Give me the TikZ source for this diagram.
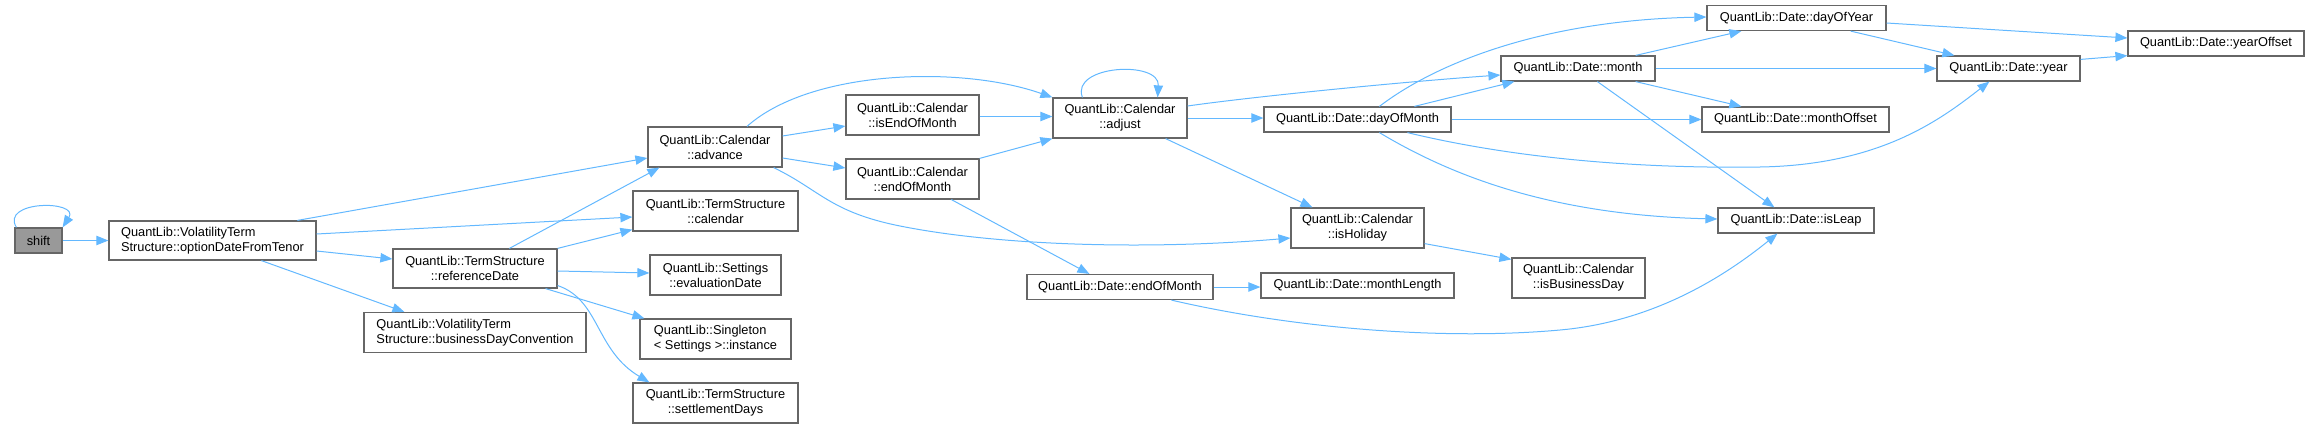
\documentclass[tikz,border=0pt]{standalone}
\usepackage{fontspec}
\setmainfont{Liberation Sans}
\usetikzlibrary{arrows.meta,calc}
\definecolor{edgeblue}{HTML}{63B8FF}
\definecolor{boxgray}{HTML}{666666}
\definecolor{shiftfill}{HTML}{999999}
\begin{document}
\begin{tikzpicture}[x=0.75pt,y=-0.75pt,
  box/.style={draw=boxgray, line width=0.9pt, fill=white, inner sep=0pt,
    font=\fontsize{9.6}{11.25}\selectfont, align=center},
  lbox/.style={box, align=left},
  sz/.style 2 args={minimum width=#1*0.75pt, minimum height=#2*0.75pt},
  call/.style={draw=edgeblue, line width=0.75pt, -{Triangle[length=9pt,width=7pt]}},
]
\useasboundingbox (0,0) rectangle (2310,429);

% nodes
\node[box, sz={47}{25}, fill=shiftfill] (shift) at (38.5,240.5) {shift};
\node[lbox, sz={207}{39}] (odft) at (212.5,240.5) {QuantLib::VolatilityTerm\\Structure::optionDateFromTenor};
\node[box, sz={134}{40}] (advance) at (715,147) {QuantLib::Calendar\\::advance};
\node[box, sz={165}{40}] (tscal) at (715.5,211) {QuantLib::TermStructure\\::calendar};
\node[box, sz={164}{39}] (refdate) at (475,268.5) {QuantLib::TermStructure\\::referenceDate};
\node[box, sz={131}{40}] (evaldate) at (715.5,275) {QuantLib::Settings\\::evaluationDate};
\node[lbox, sz={222}{40}] (bdc) at (475,332.5) {QuantLib::VolatilityTerm\\Structure::businessDayConvention};
\node[lbox, sz={151}{40}] (inst) at (715.5,339) {QuantLib::Singleton\\< Settings >::instance};
\node[box, sz={165}{40}] (settle) at (715.5,403) {QuantLib::TermStructure\\::settlementDays};
\node[box, sz={133}{40}] (iseom) at (912.5,115) {QuantLib::Calendar\\::isEndOfMonth};
\node[box, sz={133}{40}] (caleom) at (912.5,179) {QuantLib::Calendar\\::endOfMonth};
\node[box, sz={134}{40}] (adjust) at (1120,118) {QuantLib::Calendar\\::adjust};
\node[box, sz={187}{25}] (dom) at (1357.5,119.5) {QuantLib::Date::dayOfMonth};
\node[box, sz={133}{40}] (isholiday) at (1357.5,228) {QuantLib::Calendar\\::isHoliday};
\node[box, sz={186}{25}] (deom) at (1120,287) {QuantLib::Date::endOfMonth};
\node[box, sz={154}{25}] (month) at (1578,68.5) {QuantLib::Date::month};
\node[box, sz={193}{25}] (mlen) at (1357.5,285.5) {QuantLib::Date::monthLength};
\node[box, sz={133}{40}] (isbd) at (1578.5,278) {QuantLib::Calendar\\::isBusinessDay};
\node[box, sz={179}{25}] (doy) at (1796.5,18) {QuantLib::Date::dayOfYear};
\node[box, sz={187}{25}] (moff) at (1795.5,119.5) {QuantLib::Date::monthOffset};
\node[box, sz={156}{25}] (isleap) at (1796,220.5) {QuantLib::Date::isLeap};
\node[box, sz={143}{25}] (year) at (2008.5,68.5) {QuantLib::Date::year};
\node[box, sz={176}{25}] (yoff) at (2216,43.5) {QuantLib::Date::yearOffset};

% connectors
\draw[call] ($(shift.north west)+(2,0)$) .. controls (0,200) and (80,200) .. (shift.north east);
\draw[call] (shift) -- (odft);
\draw[call] ($(odft.north west)+(189,0)$) -- ($(advance.west)+(0,11)$);
\draw[call] ($(odft.east)+(0,-6.5)$) -- ($(tscal.west)+(0,6)$);
\draw[call] ($(odft.east)+(0,10.5)$) -- ($(refdate.west)+(0,-9.5)$);
\draw[call] ($(odft.south west)+(153,0)$) -- ($(bdc.north west)+(41,0)$);
\draw[call] ($(refdate.north west)+(117,0)$) -- ($(advance.south west)+(12,0)$);
\draw[call] (refdate.north east) -- ($(tscal.south west)+(0,-2)$);
\draw[call] ($(refdate.east)+(0,2.5)$) -- ($(evaldate.west)+(0,-2)$);
\draw[call] ($(refdate.south east)+(-12,0)$) -- ($(inst.north west)+(5,0)$);
\draw[call] ($(refdate.east)+(0,17)$) .. controls (600,300) and (595,350) .. ($(settle.north west)+(17,0)$);
\draw[call] ($(advance.east)+(0,-11)$) -- ($(iseom.west)+(0,11)$);
\draw[call] ($(advance.east)+(0,11)$) -- ($(caleom.west)+(0,-11)$);
\draw[call] ($(advance.north)+(32,0)$) .. controls (810,70) and (960,65) .. (adjust.north west);
\draw[call] ($(advance.south east)+(-9,0)$) .. controls (820,190) and (830,212) .. (900,226)
   .. controls (1000,246) and (1150,250) .. ($(isholiday.west)+(0,10)$);
\draw[call] ($(iseom.east)+(0,1.5)$) -- ($(adjust.west)+(0,-1.5)$);
\draw[call] (caleom.north east) -- (adjust.south west);
\draw[call] ($(caleom.south west)+(106,0)$) -- ($(deom.north west)+(63,0)$);
\draw[call] ($(adjust.north west)+(30,0)$) .. controls (1070,65) and (1160,60) .. ($(adjust.north east)+(-30,0)$);
\draw[call] (adjust.east) -- ($(dom.west)+(0,-1.5)$);
\draw[call] ($(adjust.east)+(0,-12)$) .. controls (1250,97) and (1400,82) .. ($(month.west)+(0,6.5)$);
\draw[call] ($(adjust.south east)+(-22,0)$) -- ($(isholiday.north west)+(22,0)$);
\draw[call] ($(dom.north west)+(116,0)$) .. controls (1440,60) and (1550,20) .. ($(doy.west)+(0,-1)$);
\draw[call] ($(dom.north west)+(151,0)$) -- ($(month.south west)+(14,0)$);
\draw[call] (dom.east) -- (moff.west);
\draw[call] ($(dom.south west)+(144,0)$) .. controls (1500,155) and (1620,169) .. (1760,167)
   .. controls (1880,165) and (1940,120) .. ($(year.south west)+(53,0)$);
\draw[call] ($(dom.south west)+(116,0)$) .. controls (1450,175) and (1550,215) .. ($(isleap.west)+(0,-1.5)$);
\draw[call] ($(month.north east)+(-20,0)$) -- ($(doy.south west)+(35,0)$);
\draw[call] (month.east) -- (year.west);
\draw[call] ($(month.south east)+(-20,0)$) -- ($(moff.north west)+(40,0)$);
\draw[call] ($(month.south west)+(97,0)$) -- ($(isleap.north west)+(57,0)$);
\draw[call] ($(doy.east)+(0,5)$) -- ($(yoff.west)+(0,-5.5)$);
\draw[call] ($(doy.south east)+(-36,0)$) -- ($(year.north west)+(18,0)$);
\draw[call] ($(year.north east)+(0,4)$) -- ($(yoff.south west)+(0,-1)$);
\draw[call] ($(isholiday.south east)+(0,-5)$) -- ($(isbd.north west)+(0,2)$);
\draw[call] (deom.east) -- (deom.east -| mlen.west);
\draw[call] ($(deom.south west)+(145,0)$) .. controls (1300,330) and (1450,340) .. (1560,330)
   .. controls (1650,322) and (1720,280) .. ($(isleap.south west)+(60,0)$);
\end{tikzpicture}
\end{document}
